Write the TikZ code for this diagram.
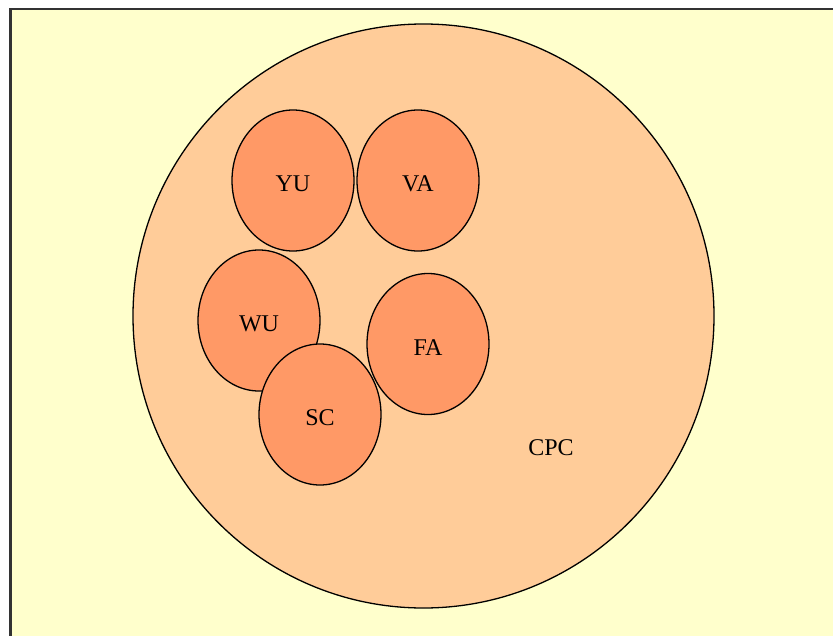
\documentclass[tikz,border=0pt]{standalone}
\usepackage{fontspec}
\setmainfont{Liberation Serif}
\definecolor{paper}{HTML}{FFFFCC}
\definecolor{outerfill}{HTML}{FFCC99}
\definecolor{innerfill}{HTML}{FF9966}
\definecolor{framegray}{HTML}{333333}
\tikzset{
  outerset/.style={ellipse, draw=black, line width=1.3pt, fill=outerfill,
    minimum width=581pt, minimum height=584pt, inner sep=0pt},
  innerset/.style={ellipse, draw=black, line width=1.3pt, fill=innerfill,
    minimum width=122pt, minimum height=141pt, inner sep=0pt},
  setlabel/.style={font=\fontsize{24}{24}\selectfont, inner sep=0pt}
}
\usetikzlibrary{shapes.geometric}
\begin{document}
\begin{tikzpicture}[x=1pt, y=-1pt]
  \useasboundingbox (0,0) rectangle (833,635);
  % page background with its frame (right and bottom run off the edge)
  \fill[white] (0,0) rectangle (833,635);
  \filldraw[fill=paper, draw=framegray, line width=2.2pt] (10.5,9) rectangle (850,660);
  % universe of discourse
  \node[outerset] (cpcset) at (423.5,316) {};
  \node[setlabel] (cpc) at (551,448) {CPC};
  % member sets, each label set a little below its centre
  \node[innerset] (yu) at (293,180.5) {};
  \node[setlabel] at ([yshift=-3.5pt]yu.center) {YU};
  \node[innerset] (va) at (418,180.5) {};
  \node[setlabel] at ([yshift=-3.5pt]va.center) {VA};
  \node[innerset] (wu) at (259,320.5) {};
  \node[setlabel] at ([yshift=-3.5pt]wu.center) {WU};
  \node[innerset] (fa) at (428,344) {};
  \node[setlabel] at ([yshift=-3.5pt]fa.center) {FA};
  \node[innerset] (sc) at (320,414.5) {};
  \node[setlabel] at ([yshift=-3.5pt]sc.center) {SC};
\end{tikzpicture}
\end{document}
